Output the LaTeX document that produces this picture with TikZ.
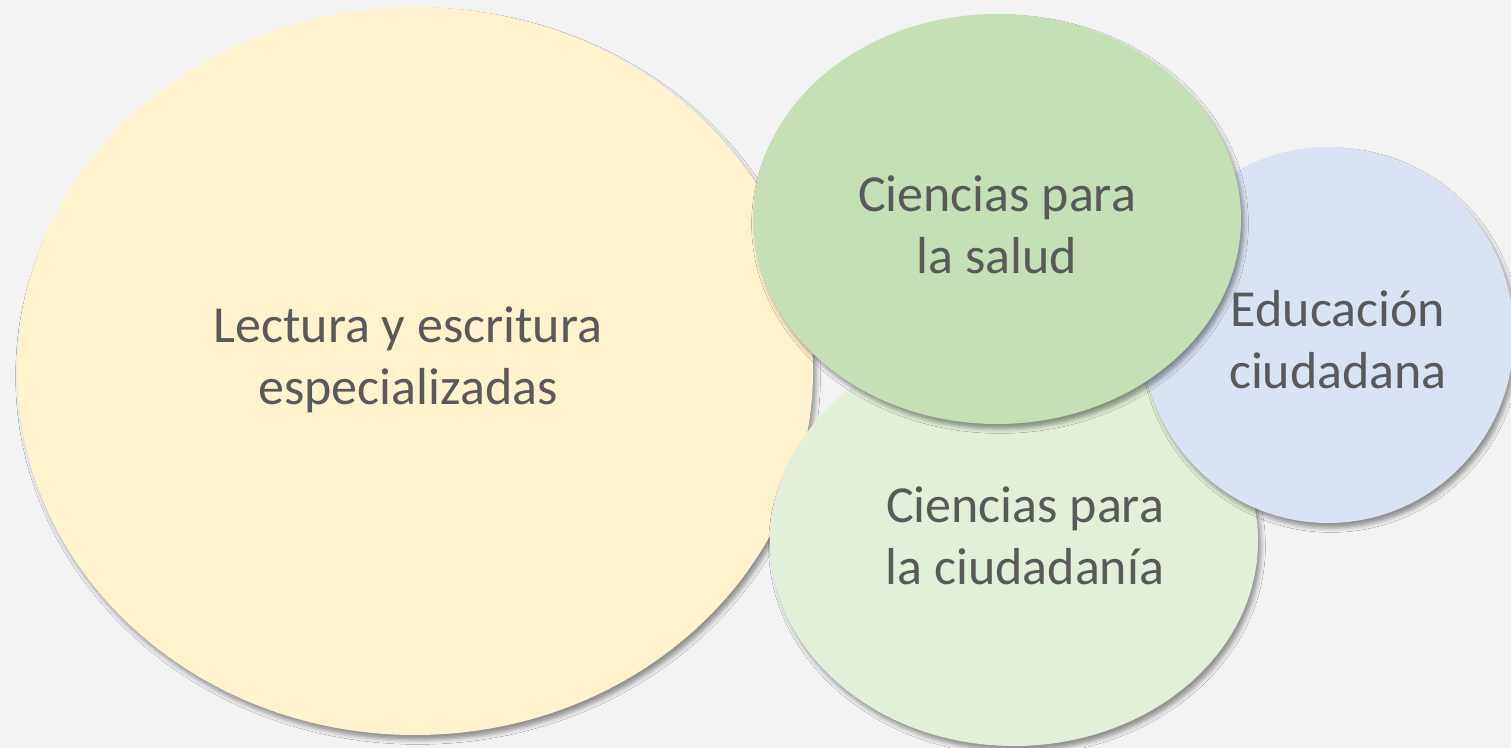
\documentclass[tikz,border=0pt]{standalone}
\usepackage{fontspec}
\setmainfont{Carlito}
\usetikzlibrary{shapes.geometric,shadows.blur}
\definecolor{bg}{RGB}{242,242,242}
\definecolor{yellowfill}{RGB}{255,242,204}
\definecolor{greenfill}{RGB}{197,224,180}
\definecolor{palegreen}{RGB}{226,240,217}
\definecolor{bluefill}{RGB}{218,227,243}
\definecolor{textgray}{RGB}{89,89,89}

\tikzset{
	blob/.style={ellipse,inner sep=0pt,draw=none,blur shadow={shadow xshift=1.5pt,shadow yshift=-2.5pt,shadow blur radius=2.2pt,shadow opacity=40}},
	txt/.style={align=center,text=textgray,font=\fontsize{26}{31}\selectfont}
}

\begin{document}
\begin{tikzpicture}[x=0.5pt,y=-0.5pt]
	\fill[bg] (0,0) rectangle (1511,748);
	\useasboundingbox (0,0) rectangle (1511,748);
	\node[blob,fill=yellowfill,minimum width=398pt,minimum height=364pt] (lectura) at (415,371) {};
	\node[blob,fill=palegreen,minimum width=244pt,minimum height=205pt] (ciudadania) at (1014,541) {};
	\node[blob,fill=bluefill,minimum width=186pt,minimum height=188pt] (educacion) at (1328,335) {};
	\node[blob,fill=greenfill,minimum width=244pt,minimum height=205pt] (salud) at (997,219) {};
	
	\node[txt] (tlectura) at (408,360) {Lectura y escritura\\especializadas};
	\node[txt] (tciudadania) at (1025,536) {Ciencias para\\la ciudadanía};
	\node[txt] (teducacion) at (1338,340) {Educación\\ciudadana};
	\node[txt] (tsalud) at (997,225) {Ciencias para\\la salud};
\end{tikzpicture}
\end{document}
